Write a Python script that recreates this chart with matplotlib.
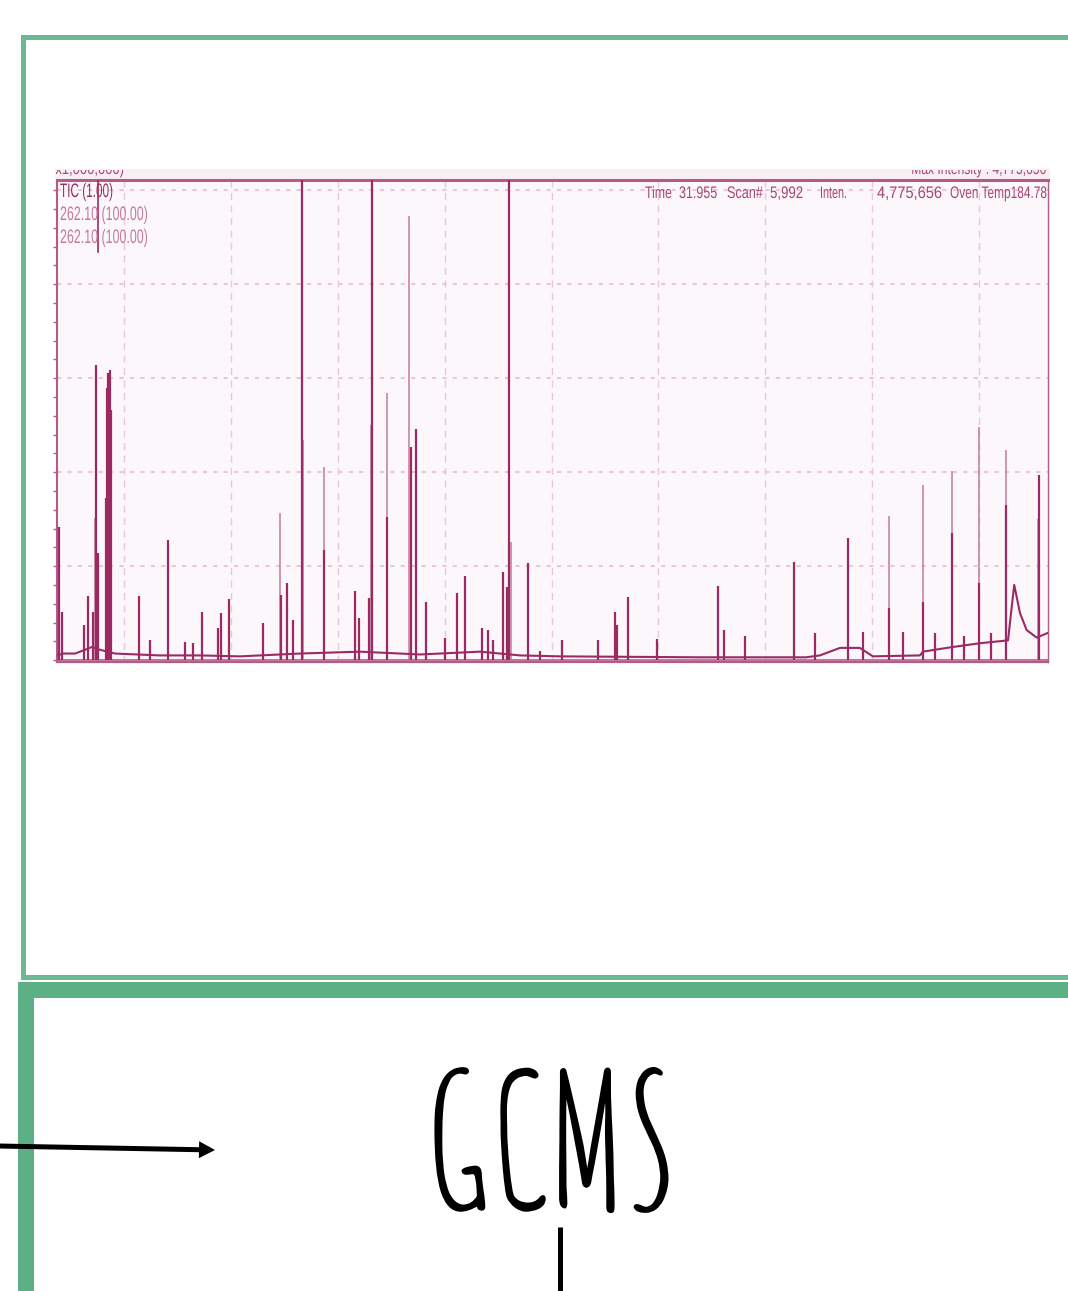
import numpy as np
import matplotlib
matplotlib.use("Agg")
import matplotlib.pyplot as plt
from matplotlib import font_manager as fm
from matplotlib.textpath import TextPath
from matplotlib.patches import Rectangle
from matplotlib.patheffects import AbstractPathEffect
from matplotlib.transforms import Affine2D, Bbox, TransformedBbox, IdentityTransform

W, H = 1068, 1291

# ---- chromatogram data (retention time in min, intensity x1,000,000) ----
# TIC baseline
base_t = [1.87, 2.15, 2.71, 3.18, 3.50, 3.88, 4.58, 6.68, 8.55, 10.43, 13.23, 16.04,
          18.84, 21.65, 23.52, 25.39, 31.94, 36.90, 37.55, 38.49, 39.42, 40.03, 42.23,
          42.37, 43.77, 45.04, 46.35, 46.52, 46.64, 46.91, 47.22, 47.69, 48.22]
base_h = [0.05, 0.07, 0.07, 0.11, 0.14, 0.11, 0.07, 0.05, 0.05, 0.04, 0.07, 0.09,
          0.06, 0.09, 0.05, 0.04, 0.03, 0.03, 0.05, 0.13, 0.13, 0.04, 0.05,
          0.09, 0.14, 0.18, 0.21, 0.56, 0.80, 0.50, 0.32, 0.24, 0.29]

# TIC peaks
tic_t = [1.97, 2.10, 3.13, 3.30, 3.55, 3.70, 3.80, 4.14, 4.22, 4.27, 4.35, 4.39,
         5.70, 6.22, 7.04, 7.85, 8.21, 8.66, 9.40, 9.52, 9.91, 11.50, 12.34, 12.62,
         12.90, 13.34, 14.37, 15.80, 15.99, 16.46, 16.59, 17.30, 18.41, 18.64, 19.14,
         20.01, 20.56, 20.95, 21.74, 22.03, 22.26, 22.74, 22.93, 23.02, 23.88, 24.46,
         25.47, 27.17, 27.97, 28.06, 28.59, 29.92, 32.80, 33.08, 34.05, 36.35, 37.32,
         38.85, 39.58, 40.77, 41.42, 42.36, 42.93, 43.73, 44.29, 45.00, 45.54, 46.27,
         47.78]
tic_h = [1.42, 0.51, 0.37, 0.68, 0.51, 3.14, 1.14, 1.73, 2.90, 3.05, 3.09, 2.66,
         0.68, 0.21, 1.28, 0.19, 0.18, 0.51, 0.34, 0.50, 0.65, 0.39, 0.69, 0.82,
         0.43, 5.50, 1.17, 0.74, 0.45, 0.66, 5.50, 1.52, 2.27, 2.46, 0.62,
         0.24, 0.71, 0.89, 0.34, 0.32, 0.21, 0.94, 0.78, 5.50, 1.03, 0.10,
         0.21, 0.21, 0.51, 0.37, 0.67, 0.22, 0.79, 0.32, 0.26, 1.04, 0.29,
         1.30, 0.30, 0.55, 0.30, 0.62, 0.29, 1.35, 0.26, 0.82, 0.29, 1.65,
         1.97]

# m/z 262.10 peaks
mz_t = [3.66, 4.30, 12.30, 13.39, 14.37, 16.54, 17.28, 18.34, 23.10, 40.77, 42.36,
        43.73, 45.00, 46.27, 47.74]
mz_h = [1.51, 2.95, 1.57, 2.34, 2.05, 2.50, 2.84, 4.73, 1.26, 1.53, 1.86,
        2.01, 2.48, 2.24, 1.50]

cursor_t = 3.77
grid_t = [5, 10, 15, 20, 25, 30, 35, 40, 45]

DARK = '#9b2a63'
LIGHT = '#c27a9e'
FRAME = '#b25c87'
TXT = '#a8457a'


class Stretch(AbstractPathEffect):
    """Rescale text glyphs around the baseline / one horizontal edge, optional outline."""
    def __init__(self, anchor='left', sx=1.0, sy=1.0, lw=0.0, color=None):
        super().__init__()
        self.anchor, self.sx, self.sy = anchor, sx, sy
        self.lw, self.color = lw, color

    def draw_path(self, renderer, gc, tpath, affine, rgbFace=None):
        v = tpath.vertices
        if len(v) == 0:
            return
        x0 = {'left': v[:, 0].min(), 'right': v[:, 0].max()}.get(
            self.anchor, (v[:, 0].min() + v[:, 0].max()) / 2)
        aff = Affine2D().translate(-x0, 0).scale(self.sx, self.sy).translate(x0, 0) + affine
        gc0 = renderer.new_gc()
        gc0.copy_properties(gc)
        if self.lw > 0:
            gc0.set_linewidth(self.lw)
            gc0.set_joinstyle('round')
            gc0.set_capstyle('round')
            gc0.set_foreground(self.color)
        renderer.draw_path(gc0, tpath, aff, rgbFace)
        gc0.restore()


fig = plt.figure(figsize=(W / 100, H / 100), dpi=100)

# background overlay in pixel units
bg = fig.add_axes([0, 0, 1, 1], zorder=0)
bg.set_xlim(0, W)
bg.set_ylim(H, 0)
bg.axis('off')

# top box (light green) and bottom box (thick green)
for x, y, w, h in [(21, 35, 5, 945), (21, 35, 1060, 5), (21, 975, 1060, 5)]:
    bg.add_patch(Rectangle((x, y), w, h, color='#6cb892', lw=0))
for x, y, w, h in [(18, 982, 16, 320), (18, 982, 1060, 16)]:
    bg.add_patch(Rectangle((x, y), w, h, color='#5db085', lw=0))
# pink band above chart
bg.add_patch(Rectangle((55, 169), 995, 11, color='#f9eef3', lw=0))

# chromatogram
ax = fig.add_axes([57 / W, 1 - 662 / H, (1048 - 57) / W, (662 - 180) / H], zorder=1)
ax.set_facecolor('#fcf7fa')
ax.set_xlim(1.866, 48.22)
ax.set_ylim(-0.02, 5.108)
ax.set_xticks(grid_t)
ax.set_yticks([1, 2, 3, 4, 5])
ax.set_yticks(np.arange(0, 5.1, 0.2), minor=True)
ax.tick_params(axis='x', length=0, labelbottom=False)
ax.tick_params(axis='y', which='both', length=3, width=1, color=FRAME, direction='out',
               labelleft=False)
ax.grid(axis='x', color='#ecc6d7', ls=(0, (5, 4)), lw=1.0)
ax.grid(axis='y', color='#ecc6d7', ls=(0, (2, 3)), lw=1.5)
ax.set_axisbelow(True)
for side, lw in [('top', 2.2), ('left', 1.5), ('right', 1.0), ('bottom', 1.6)]:
    ax.spines[side].set_color(FRAME)
    ax.spines[side].set_linewidth(lw)

ax.axhline(0.0, color=LIGHT, lw=1.5, zorder=2)
ax.vlines(mz_t, 0, mz_h, color=LIGHT, lw=1.1, zorder=3)
ax.plot(base_t, base_h, color=DARK, lw=1.5, zorder=4)
ax.vlines(tic_t, 0, tic_h, color=DARK, lw=1.6, zorder=4)
ax.plot([cursor_t, cursor_t], [4.34, 5.11], color=DARK, lw=1.2, zorder=4)

# overlay for texts and drawing
top = fig.add_axes([0, 0, 1, 1], zorder=3)
top.set_xlim(0, W)
top.set_ylim(H, 0)
top.axis('off')
top.patch.set_alpha(0)

font = ['Liberation Sans Narrow', 'Liberation Sans', 'DejaVu Sans']
renderer = fig.canvas.get_renderer()
clip = TransformedBbox(Bbox.from_extents(56, 0, W, H - 170), IdentityTransform())


def label(x, y, s, width, cap, color, ha='left', clipped=False):
    # font size from the width, then stretch glyphs to the screen-capture height
    eff = Stretch(anchor=ha)
    t = top.text(x, y, s, ha=ha, va='baseline', fontsize=10, color=color,
                 family=font, path_effects=[eff])
    size = 10 * width / t.get_window_extent(renderer).width
    t.set_fontsize(size)
    eff.sy = cap / (0.716 * size * 100 / 72)
    if clipped:
        t.set_clip_box(clip)
        t.set_clip_on(True)
    return t


label(60, 197, 'TIC (1.00)', 53, 14, DARK)
label(60, 220, '262.10 (100.00)', 88, 14, LIGHT)
label(60, 243, '262.10 (100.00)', 88, 14, LIGHT)

for x, s, w in [(645, 'Time', 27), (679, '31.955', 38), (727, 'Scan#', 36),
                (770, '5,992', 33), (820, 'Inten.', 27), (877, '4,775,656', 65),
                (950, 'Oven Temp184.78', 97)]:
    label(x, 198, s, w, 12, TXT)

label(51, 174, '(x1,000,000)', 73, 12, TXT, clipped=True)
label(1047, 174, 'Max Intensity : 4,775,656', 135, 12, TXT, ha='right', clipped=True)

# GCMS hand-lettered label (Amatic SC), sized to the glyph box in the reference
gprop = fm.FontProperties(family=['Amatic SC', 'DejaVu Sans'], weight='normal')
ext = TextPath((0, 0), 'GCMS', size=100, prop=gprop).get_extents()
gsize = 100 * (144 * 0.72) / ext.height
eff = Stretch(anchor='center', sx=(232 * 0.72 / gsize * 100) / ext.width,
              lw=1.5, color='black')
g = top.text(552, 1212 - (-ext.y0) * gsize / 100 / 0.72, 'GCMS', ha='center',
             va='baseline', fontproperties=gprop, fontsize=gsize, color='black',
             path_effects=[eff])

# arrow and connector
top.arrow(-2, 1146, 217, 4, width=5, head_width=17, head_length=16,
          length_includes_head=True, color='black', lw=0)
top.plot([560, 560], [1227, 1295], color='black', lw=3.6, solid_capstyle='butt')

fig.savefig('out.png', dpi=100)
